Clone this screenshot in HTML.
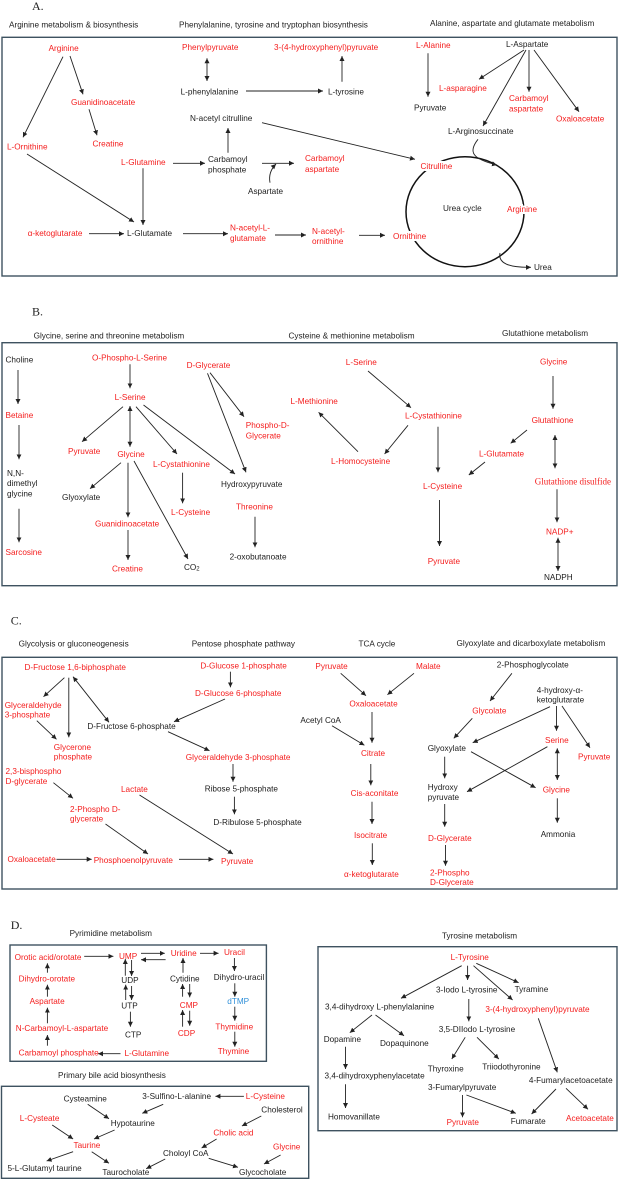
<!DOCTYPE html>
<html><head><meta charset="utf-8"><style>
html,body{margin:0;padding:0;background:#fff}
svg{display:block}
text{font-family:"Liberation Sans",Arial,sans-serif;font-size:8.2px;dominant-baseline:central}
.r{fill:#f41c1c}.k{fill:#1c1c1c}.b{fill:#2f8fd8}
.t{font-size:8.2px;fill:#222}
.s{font-family:"Liberation Serif",serif;font-size:12px;fill:#222}
.m{stroke:#fff;stroke-width:4;paint-order:stroke}
line,path.a{stroke:#222;stroke-width:0.9;fill:none;marker-end:url(#ah)}
.d{marker-start:url(#as)}
rect{fill:none;stroke:#3e5260;stroke-width:1.4}
</style></head><body>
<svg width="619" height="1180" viewBox="0 0 619 1180" xmlns="http://www.w3.org/2000/svg">
<defs>
<marker id="ah" markerWidth="6" markerHeight="6" refX="5" refY="3" orient="auto" markerUnits="userSpaceOnUse"><path d="M0,0.5 L5,3 L0,5.5z" fill="#222"/></marker>
<marker id="as" markerWidth="6" markerHeight="6" refX="0" refY="3" orient="auto" markerUnits="userSpaceOnUse"><path d="M5,0.5 L0,3 L5,5.5z" fill="#222"/></marker>
</defs>

<!-- ========== A ========== -->
<text class="s" x="32" y="6">A.</text>
<text class="t" x="9" y="25">Arginine metabolism &amp; biosynthesis</text>
<text class="t" x="179" y="25">Phenylalanine, tyrosine and tryptophan biosynthesis</text>
<text class="t" x="430" y="23.3">Alanine, aspartate and glutamate metabolism</text>
<rect x="2" y="37.3" width="615" height="238.7"/>

<ellipse cx="465" cy="211.7" rx="59" ry="55" fill="none" stroke="#111" stroke-width="1.5"/>

<line x1="63" y1="56.7" x2="23" y2="137.3"/>
<line x1="70" y1="56" x2="83" y2="94.3"/>
<line x1="89" y1="109.3" x2="97" y2="135.3"/>
<line x1="27" y1="154" x2="134" y2="222"/>
<line x1="143" y1="168.3" x2="143" y2="225"/>
<line x1="173" y1="163.3" x2="205" y2="163.3"/>
<line x1="89" y1="233.7" x2="124" y2="233.7"/>
<line x1="183" y1="233.7" x2="228" y2="233.7"/>
<line x1="275" y1="235" x2="306" y2="235"/>
<line x1="359" y1="235.3" x2="385" y2="235.3"/>
<line x1="228" y1="152.7" x2="228" y2="128"/>
<line x1="262" y1="163.3" x2="294" y2="163.3"/>
<path class="a" d="M270,182.7 Q268,172 276,164"/>
<line x1="262" y1="122.7" x2="415" y2="159.3"/>
<line class="d" x1="207" y1="58.3" x2="207" y2="81"/>
<line x1="246" y1="91" x2="323" y2="91"/>
<line x1="342" y1="81.7" x2="342" y2="56"/>
<line x1="428" y1="53.3" x2="428" y2="96.7"/>
<line x1="524" y1="50" x2="479" y2="79.3"/>
<line x1="529" y1="50" x2="529" y2="91.7"/>
<line x1="534" y1="50" x2="579" y2="111.7"/>
<line x1="526" y1="50" x2="483" y2="126"/>
<path class="a" d="M478,139.3 C468,152 472,159 497,165"/>
<path class="a" d="M500,253 Q497,268 531,267.3"/>

<text class="r" x="48.6" y="48.3">Arginine</text>
<text class="r" x="71" y="102.3">Guanidinoacetate</text>
<text class="r" x="7" y="147">L-Ornithine</text>
<text class="r" x="92.5" y="144">Creatine</text>
<text class="r" x="121" y="162.7">L-Glutamine</text>
<text class="r" x="27.7" y="233.7">α-ketoglutarate</text>
<text class="k" x="127" y="233.7">L-Glutamate</text>
<text class="r" x="182" y="47.7">Phenylpyruvate</text>
<text class="r" x="274" y="47.3">3-(4-hydroxyphenyl)pyruvate</text>
<text class="k" x="180.6" y="92">L-phenylalanine</text>
<text class="k" x="328" y="92">L-tyrosine</text>
<text class="k" x="190" y="118.3">N-acetyl citrulline</text>
<text class="k" x="208" y="159.3">Carbamoyl</text>
<text class="k" x="208" y="170">phosphate</text>
<text class="r" x="305" y="158.7">Carbamoyl</text>
<text class="r" x="305" y="169.3">aspartate</text>
<text class="k" x="248" y="191.7">Aspartate</text>
<text class="r" x="230" y="228">N-acetyl-L-</text>
<text class="r" x="230" y="238.3">glutamate</text>
<text class="r" x="312" y="231.3">N-acetyl-</text>
<text class="r" x="312" y="241.7">ornithine</text>
<text class="r m" x="393" y="236.7">Ornithine</text>
<text class="r" x="416" y="45.7">L-Alanine</text>
<text class="k" x="414" y="108">Pyruvate</text>
<text class="k" x="506" y="44.3">L-Aspartate</text>
<text class="r" x="439" y="88.3">L-asparagine</text>
<text class="r" x="509" y="98.7">Carbamoyl</text>
<text class="r" x="509" y="109">aspartate</text>
<text class="r" x="556" y="119">Oxaloacetate</text>
<text class="k" x="448" y="131.3">L-Arginosuccinate</text>
<text class="r m" x="420.5" y="166.7">Citrulline</text>
<text class="k" x="443" y="208.7">Urea cycle</text>
<text class="r m" x="507" y="209.3">Arginine</text>
<text class="k" x="534" y="267.3">Urea</text>

<!-- ========== B ========== -->
<text class="s" x="32" y="311.7">B.</text>
<text class="t" x="33.6" y="336">Glycine, serine and threonine metabolism</text>
<text class="t" x="288.5" y="336">Cysteine &amp; methionine metabolism</text>
<text class="t" x="502" y="333.7">Glutathione metabolism</text>
<rect x="2" y="342.7" width="615" height="243"/>

<line x1="18" y1="370" x2="18" y2="404"/>
<line x1="19" y1="425" x2="19" y2="459.3"/>
<line x1="19" y1="508.7" x2="19" y2="542.3"/>
<line x1="130" y1="364.3" x2="130" y2="388.3"/>
<line x1="123" y1="406.7" x2="82" y2="441.7"/>
<line class="d" x1="130" y1="406" x2="130" y2="446.7"/>
<line x1="136" y1="406.7" x2="177" y2="454"/>
<line x1="143.5" y1="405" x2="235" y2="474"/>
<line x1="210" y1="372.7" x2="244" y2="416.7"/>
<line x1="207.5" y1="373.3" x2="246" y2="472.3"/>
<line x1="121" y1="462.7" x2="90" y2="488.7"/>
<line x1="128" y1="462.7" x2="128" y2="517.3"/>
<line x1="134" y1="461" x2="188" y2="559"/>
<line x1="182.6" y1="472.7" x2="182.6" y2="503.3"/>
<line x1="128" y1="530" x2="128" y2="560"/>
<line x1="255" y1="516.7" x2="255" y2="547.3"/>
<line x1="368" y1="371" x2="411" y2="407.7"/>
<line x1="408" y1="425.3" x2="384.6" y2="454"/>
<line x1="358" y1="451.7" x2="318.6" y2="412.3"/>
<line x1="438" y1="426.7" x2="438" y2="472.3"/>
<line x1="439.5" y1="500" x2="439.5" y2="546"/>
<line x1="553" y1="376" x2="553" y2="408.7"/>
<line x1="527" y1="430" x2="510.7" y2="443.3"/>
<line x1="485" y1="462" x2="468.8" y2="475"/>
<line class="d" x1="555" y1="435" x2="555" y2="468.3"/>
<line x1="557" y1="489.3" x2="557" y2="522.3"/>
<line class="d" x1="558" y1="537.7" x2="558" y2="571"/>

<text class="k" x="5.5" y="360">Choline</text>
<text class="r" x="5.5" y="415.3">Betaine</text>
<text class="k" x="7" y="473.3">N,N-</text>
<text class="k" x="7" y="483.7">dimethyl</text>
<text class="k" x="7" y="494">glycine</text>
<text class="r" x="5.5" y="552.7">Sarcosine</text>
<text class="r" x="92" y="358">O-Phospho-L-Serine</text>
<text class="r" x="114.6" y="397.7">L-Serine</text>
<text class="r" x="186.6" y="365.3">D-Glycerate</text>
<text class="r" x="245.8" y="425.7">Phospho-D-</text>
<text class="r" x="245.8" y="436">Glycerate</text>
<text class="r" x="68" y="451.3">Pyruvate</text>
<text class="r" x="117.4" y="454.7">Glycine</text>
<text class="r" x="153" y="464.3">L-Cystathionine</text>
<text class="k" x="221" y="484.7">Hydroxypyruvate</text>
<text class="k" x="62" y="497.7">Glyoxylate</text>
<text class="r" x="171" y="512.7">L-Cysteine</text>
<text class="r" x="236" y="507">Threonine</text>
<text class="r" x="95" y="524">Guanidinoacetate</text>
<text class="k" x="229.6" y="557">2-oxobutanoate</text>
<text class="r" x="112" y="569">Creatine</text>
<text class="k" x="184" y="567.7">CO<tspan font-size="6" dy="2">2</tspan></text>
<text class="r" x="345.8" y="362.7">L-Serine</text>
<text class="r" x="290.5" y="401.3">L-Methionine</text>
<text class="r" x="405" y="416">L-Cystathionine</text>
<text class="r" x="331" y="461.7">L-Homocysteine</text>
<text class="r" x="423" y="486.7">L-Cysteine</text>
<text class="r" x="427.7" y="561.7">Pyruvate</text>
<text class="r" x="540" y="362">Glycine</text>
<text class="r" x="531.6" y="420.7">Glutathione</text>
<text class="r" x="479" y="454">L-Glutamate</text>
<text class="r" x="534.8" y="481.3" style="font-family:'Liberation Serif',serif;font-size:9px">Glutathione disulfide</text>
<text class="r" x="546" y="532">NADP+</text>
<text class="k" x="544" y="577.3">NADPH</text>

<!-- ========== C ========== -->
<text class="s" x="10.7" y="620.7">C.</text>
<text class="t" x="18.6" y="644">Glycolysis or gluconeogenesis</text>
<text class="t" x="191.7" y="644">Pentose phosphate pathway</text>
<text class="t" x="358.5" y="644">TCA cycle</text>
<text class="t" x="456.5" y="643.3">Glyoxylate and dicarboxylate metabolism</text>
<rect x="2" y="657.3" width="615" height="231.7"/>

<line x1="64.4" y1="677.7" x2="43.5" y2="696.7"/>
<line x1="68.8" y1="677.7" x2="68.8" y2="737.3"/>
<line class="d" x1="73" y1="676.7" x2="109" y2="722.3"/>
<line x1="36.8" y1="720.7" x2="56.5" y2="739.3"/>
<line x1="53.4" y1="782.7" x2="73" y2="798.3"/>
<line x1="105.5" y1="824" x2="148" y2="854"/>
<line x1="139.5" y1="795" x2="233" y2="854"/>
<line x1="56.5" y1="859.3" x2="91.7" y2="859.3"/>
<line x1="179" y1="859.3" x2="213.4" y2="859.3"/>
<line x1="230.4" y1="671.7" x2="230.4" y2="687.3"/>
<line x1="225" y1="699" x2="174" y2="721.7"/>
<line x1="168" y1="731.7" x2="209.5" y2="750.7"/>
<line x1="233" y1="764" x2="233" y2="781.7"/>
<line x1="234.4" y1="796.7" x2="234.4" y2="814.3"/>
<line x1="340.7" y1="673.3" x2="366" y2="695.7"/>
<line x1="414" y1="673.3" x2="387.4" y2="694.7"/>
<line x1="372" y1="712" x2="372" y2="742.7"/>
<line x1="332" y1="725.7" x2="364.4" y2="745.3"/>
<line x1="370.8" y1="764" x2="370.8" y2="785.3"/>
<line x1="372" y1="801.7" x2="372" y2="824"/>
<line x1="372.3" y1="843.3" x2="372.3" y2="865"/>
<line x1="511.9" y1="673.3" x2="490" y2="701"/>
<line x1="472.3" y1="718.3" x2="453.8" y2="738.3"/>
<line x1="550" y1="706.7" x2="472.7" y2="742.7"/>
<line x1="556.5" y1="706" x2="556.5" y2="730.7"/>
<line x1="562" y1="706" x2="590" y2="747.7"/>
<line x1="444.7" y1="756.7" x2="444.7" y2="778.3"/>
<line x1="471" y1="751.7" x2="535.6" y2="787.7"/>
<line x1="547.4" y1="746.7" x2="467" y2="791.7"/>
<line class="d" x1="557.3" y1="748.3" x2="557.3" y2="780"/>
<line x1="557.3" y1="798.3" x2="557.3" y2="822.7"/>
<line x1="444.7" y1="804" x2="444.7" y2="826.7"/>
<line x1="445.5" y1="845" x2="445.5" y2="865.7"/>

<text class="r" x="24.5" y="667.7">D-Fructose 1,6-biphosphate</text>
<text class="r" x="4.7" y="705.3">Glyceraldehyde</text>
<text class="r" x="4.7" y="715">3-phosphate</text>
<text class="r" x="53.8" y="747.3">Glycerone</text>
<text class="r" x="53.8" y="757">phosphate</text>
<text class="k" x="87.4" y="726.7">D-Fructose 6-phosphate</text>
<text class="r" x="5.5" y="771.7">2,3-bisphospho</text>
<text class="r" x="5.5" y="781.7">D-glycerate</text>
<text class="r" x="70" y="809.3">2-Phospho D-</text>
<text class="r" x="70" y="819">glycerate</text>
<text class="r" x="121" y="789.7">Lactate</text>
<text class="r" x="7.5" y="859.3">Oxaloacetate</text>
<text class="r" x="93.7" y="860.7">Phosphoenolpyruvate</text>
<text class="r" x="221" y="861.3">Pyruvate</text>
<text class="r" x="200.4" y="666">D-Glucose 1-phosphate</text>
<text class="r" x="195" y="693.3">D-Glucose 6-phosphate</text>
<text class="r" x="185.8" y="757.3">Glyceraldehyde 3-phosphate</text>
<text class="k" x="204.7" y="789">Ribose 5-phosphate</text>
<text class="k" x="213.4" y="822.3">D-Ribulose 5-phosphate</text>
<text class="r" x="315.4" y="666.3">Pyruvate</text>
<text class="r" x="416" y="666.3">Malate</text>
<text class="r" x="349.4" y="704">Oxaloacetate</text>
<text class="k" x="300.4" y="720.3">Acetyl CoA</text>
<text class="r" x="361" y="753.3">Citrate</text>
<text class="r" x="350.6" y="793.7">Cis-aconitate</text>
<text class="r" x="354" y="835.7">Isocitrate</text>
<text class="r" x="344" y="874.3">α-ketoglutarate</text>
<text class="k" x="496.8" y="665">2-Phosphoglycolate</text>
<text class="k" x="536.8" y="690.3">4-hydroxy-α-</text>
<text class="k" x="536.8" y="700">ketoglutarate</text>
<text class="r" x="472.3" y="711">Glycolate</text>
<text class="k" x="427.7" y="748.3">Glyoxylate</text>
<text class="r" x="545" y="740.3">Serine</text>
<text class="r" x="578" y="757">Pyruvate</text>
<text class="k" x="427.7" y="787.3">Hydroxy</text>
<text class="k" x="427.7" y="797.3">pyruvate</text>
<text class="r" x="542.7" y="790">Glycine</text>
<text class="r" x="428" y="838.3">D-Glycerate</text>
<text class="k" x="540.7" y="834.3">Ammonia</text>
<text class="r" x="430" y="873">2-Phospho</text>
<text class="r" x="430" y="882.7">D-Glycerate</text>

<!-- ========== D ========== -->
<text class="s" x="10.7" y="925">D.</text>
<text class="t" x="69.6" y="933.7">Pyrimidine metabolism</text>
<text class="t" x="442" y="936">Tyrosine metabolism</text>
<text class="t" x="58" y="1075.7">Primary bile acid biosynthesis</text>
<rect x="10" y="945" width="256.4" height="116.3"/>
<rect x="318" y="946.7" width="299" height="184"/>
<rect x="1.5" y="1086.3" width="307.2" height="92"/>

<line x1="84.2" y1="956.3" x2="113.4" y2="956.3"/>
<line x1="47.4" y1="972.7" x2="47.4" y2="963.3"/>
<line x1="47.4" y1="996.7" x2="47.4" y2="984.7"/>
<line x1="47.4" y1="1023.3" x2="47.4" y2="1007.7"/>
<line x1="47.4" y1="1045.7" x2="47.4" y2="1035"/>
<line x1="120.5" y1="1053.7" x2="98" y2="1053.7"/>
<line x1="131.6" y1="960" x2="131.6" y2="976"/>
<line x1="125.3" y1="975.7" x2="125.3" y2="959"/>
<line x1="131.6" y1="986" x2="131.6" y2="1000"/>
<line x1="125.7" y1="1000" x2="125.7" y2="984.7"/>
<line x1="130.4" y1="1011.7" x2="130.4" y2="1026.7"/>
<line x1="141" y1="953.3" x2="164.8" y2="953.3"/>
<line x1="165.6" y1="959.7" x2="141" y2="959.7"/>
<line x1="200" y1="953.3" x2="218.6" y2="953.3"/>
<line x1="183" y1="972.7" x2="183" y2="958"/>
<line x1="182.6" y1="996.7" x2="182.6" y2="984"/>
<line x1="189.7" y1="984" x2="189.7" y2="997.3"/>
<line x1="182.6" y1="1026.7" x2="182.6" y2="1010"/>
<line x1="189.7" y1="1010.7" x2="189.7" y2="1025.7"/>
<line x1="234.4" y1="958" x2="234.4" y2="971"/>
<line x1="234.8" y1="983.3" x2="234.8" y2="996.7"/>
<line x1="234.8" y1="1006.7" x2="234.8" y2="1020.7"/>
<line x1="234.8" y1="1031.7" x2="234.8" y2="1046.7"/>

<text class="r" x="14.6" y="957.7">Orotic acid/orotate</text>
<text class="r" x="18.6" y="979">Dihydro-orotate</text>
<text class="r" x="29.6" y="1001.7">Aspartate</text>
<text class="r" x="15.8" y="1028.7">N-Carbamoyl-L-aspartate</text>
<text class="r" x="18.6" y="1053">Carbamoyl phosphate</text>
<text class="r" x="124.5" y="1053.7">L-Glutamine</text>
<text class="r" x="119" y="956.3">UMP</text>
<text class="k" x="121.3" y="980.7">UDP</text>
<text class="k" x="121.3" y="1006">UTP</text>
<text class="k" x="125" y="1035">CTP</text>
<text class="r" x="170.7" y="953.3">Uridine</text>
<text class="k" x="170" y="979">Cytidine</text>
<text class="r" x="179.8" y="1005.3">CMP</text>
<text class="r" x="177.9" y="1033.7">CDP</text>
<text class="r" x="224" y="952.3">Uracil</text>
<text class="k" x="213.8" y="977.7">Dihydro-uracil</text>
<text class="b" x="227.3" y="1001.7">dTMP</text>
<text class="r" x="215.4" y="1027">Thymidine</text>
<text class="r" x="217.8" y="1051.3">Thymine</text>

<line x1="461.7" y1="965.7" x2="401" y2="998.3"/>
<line x1="467.6" y1="965.7" x2="467.6" y2="980"/>
<line x1="473.5" y1="965.7" x2="512.6" y2="1000"/>
<line x1="476.3" y1="963.3" x2="518.6" y2="982.7"/>
<line x1="468.8" y1="999" x2="468.8" y2="1021.3"/>
<line x1="372" y1="1015" x2="349.8" y2="1032.7"/>
<line x1="375.5" y1="1015" x2="404" y2="1035.7"/>
<line x1="345.5" y1="1046.7" x2="345.5" y2="1069"/>
<line x1="345.5" y1="1084.3" x2="345.5" y2="1108"/>
<line x1="465.2" y1="1037.3" x2="451.8" y2="1059"/>
<line x1="477" y1="1037.3" x2="498.8" y2="1059"/>
<line x1="538.3" y1="1018.3" x2="557.3" y2="1072.3"/>
<line x1="462.5" y1="1095" x2="462.5" y2="1117.3"/>
<line x1="466.4" y1="1095" x2="515.8" y2="1113.3"/>
<line x1="556" y1="1089" x2="531.6" y2="1114"/>
<line x1="566" y1="1088.3" x2="588" y2="1109.3"/>

<text class="r" x="450.6" y="957.3">L-Tyrosine</text>
<text class="k" x="436" y="990">3-Iodo L-tyrosine</text>
<text class="k" x="514.6" y="989.3">Tyramine</text>
<text class="k" x="325" y="1007">3,4-dihydroxy L-phenylalanine</text>
<text class="r" x="485.4" y="1009.7">3-(4-hydroxyphenyl)pyruvate</text>
<text class="k" x="438.7" y="1029.3">3,5-DIIodo L-tyrosine</text>
<text class="k" x="323.7" y="1039.3">Dopamine</text>
<text class="k" x="380" y="1043.3">Dopaquinone</text>
<text class="k" x="324.5" y="1076">3,4-dihydroxyphenylacetate</text>
<text class="k" x="427.7" y="1069">Thyroxine</text>
<text class="k" x="482.2" y="1067">Triiodothyronine</text>
<text class="k" x="528.9" y="1080.7">4-Fumarylacetoacetate</text>
<text class="k" x="428" y="1087.7">3-Fumarylpyruvate</text>
<text class="k" x="328" y="1117">Homovanillate</text>
<text class="r" x="446.6" y="1122.7">Pyruvate</text>
<text class="k" x="510.7" y="1121.7">Fumarate</text>
<text class="r" x="566" y="1118.3">Acetoacetate</text>

<line x1="243.9" y1="1096.3" x2="215.4" y2="1096.3"/>
<line x1="163.2" y1="1104.3" x2="142.3" y2="1113.3"/>
<line x1="87.7" y1="1104.3" x2="109" y2="1118.7"/>
<line x1="261.3" y1="1116" x2="241.9" y2="1126"/>
<line x1="52.2" y1="1125" x2="73.1" y2="1139"/>
<line x1="114.6" y1="1130" x2="94" y2="1139"/>
<line x1="216.6" y1="1139" x2="201.6" y2="1148"/>
<line x1="73.1" y1="1151.7" x2="46.6" y2="1161"/>
<line x1="91.7" y1="1151.7" x2="109" y2="1163.3"/>
<line x1="165.2" y1="1159" x2="146.2" y2="1168.7"/>
<line x1="208.7" y1="1158.3" x2="238" y2="1167.3"/>
<line x1="280.6" y1="1155" x2="264" y2="1164"/>

<text class="k" x="63.6" y="1099">Cysteamine</text>
<text class="k" x="142.3" y="1096.3">3-Sulfino-L-alanine</text>
<text class="r" x="245.8" y="1096.3">L-Cysteine</text>
<text class="k" x="261.3" y="1110">Cholesterol</text>
<text class="r" x="19.8" y="1118.3">L-Cysteate</text>
<text class="k" x="110.7" y="1123.3">Hypotaurine</text>
<text class="r" x="213.4" y="1133">Cholic acid</text>
<text class="r" x="73.5" y="1145.7">Taurine</text>
<text class="r" x="273" y="1147">Glycine</text>
<text class="k" x="163" y="1153.3">Choloyl CoA</text>
<text class="k" x="7.5" y="1168.7">5-L-Glutamyl taurine</text>
<text class="k" x="102.4" y="1172.7">Taurocholate</text>
<text class="k" x="239" y="1172.7">Glycocholate</text>
</svg>
</body></html>
